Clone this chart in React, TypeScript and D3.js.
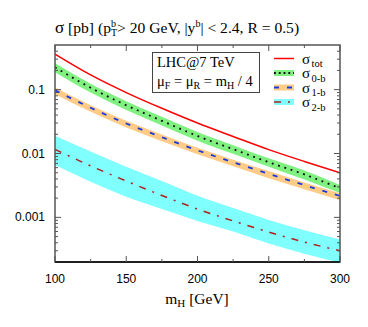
import React from "react";
import * as d3 from "d3";

const masses = [100, 125, 150, 175, 200, 225, 250, 275, 300];
const sigTot = [0.36, 0.17, 0.09, 0.051, 0.030, 0.0185, 0.0115, 0.0075, 0.0050];
const sig0 = [0.224, 0.107, 0.057, 0.0325, 0.0188, 0.0117, 0.0073, 0.0047, 0.00285];
const sig0Lo = [0.187, 0.090, 0.048, 0.0275, 0.0159, 0.0099, 0.0062, 0.0039, 0.0024];
const sig0Hi = [0.262, 0.124, 0.066, 0.0376, 0.0217, 0.0135, 0.0084, 0.0054, 0.0032];
const sig1 = [0.098, 0.052, 0.0295, 0.018, 0.0112, 0.0073, 0.0048, 0.0032, 0.00217];
const sig1Lo = [0.085, 0.045, 0.0255, 0.0155, 0.0097, 0.0063, 0.0041, 0.00275, 0.00186];
const sig1Hi = [0.108, 0.057, 0.0325, 0.0198, 0.0123, 0.0080, 0.0053, 0.0035, 0.00238];
const sig2 = [0.0116, 0.0064, 0.0037, 0.0022, 0.00135, 0.00088, 0.00059, 0.00041, 0.00030];
const sig2Lo = [0.0066, 0.0036, 0.0021, 0.00135, 0.00088, 0.0006, 0.00039, 0.00027, 0.000195];
const sig2Hi = [0.019, 0.0107, 0.0062, 0.0037, 0.00218, 0.0014, 0.00091, 0.00063, 0.00045];

const xTicks = [100, 150, 200, 250, 300];
const xMinor = [125, 175, 225, 275];
const yTicks = [0.001, 0.01, 0.1];
const yTickLabels = ["0.001", "0.01", "0.1"];

const legendSubs = ["tot", "0-b", "1-b", "2-b"];

const SERIF = "'Liberation Serif', 'Times New Roman', serif";
const SANS = "'Liberation Sans', Arial, sans-serif";

export default function App() {
  const W = 368, H = 327;
  const L = 55, R = 340, T = 45, B = 262;
  const x = d3.scaleLinear().domain([100, 300]).range([L, R]);
  const y = d3.scaleLog().domain([0.0002, 0.5]).range([B, T]);

  const line = (vals: number[]) =>
    d3.line<number>().x((_, i) => x(masses[i])).y((v) => y(v)).curve(d3.curveMonotoneX)(vals) || "";
  const area = (lo: number[], hi: number[]) =>
    d3
      .area<number>()
      .x((_, i) => x(masses[i]))
      .y0((_, i) => y(lo[i]))
      .y1((_, i) => y(hi[i]))
      .curve(d3.curveMonotoneX)(masses) || "";

  const minorY: number[] = [];
  [0.0001, 0.001, 0.01, 0.1].forEach((dec) => {
    for (let k = 2; k <= 9; k++) {
      const v = dec * k;
      if (v > 0.0002 && v < 0.5) minorY.push(v);
    }
  });

  const frame = "#555";
  const legY = [58.5, 73, 87.5, 102];
  const legX0 = 274, legX1 = 294;

  return (
    <svg width={W} height={H} style={{ position: "absolute", left: 0, top: 0, background: "#fff" }}>
      <defs>
        <clipPath id="plotclip">
          <rect x={L} y={T} width={R - L} height={B - T} />
        </clipPath>
      </defs>
      {/* Title */}
      <text x={L} y={33} fontFamily={SERIF} fontSize={15.6} fill="#000">
        <tspan fontSize={17}>σ</tspan>
        <tspan> [pb] (p</tspan>
        <tspan fontSize={10} dy={-6}>b</tspan>
        <tspan fontSize={10} dx={-5} dy={9}>T</tspan>
        <tspan dy={-3}>{"> 20 GeV, |y"}</tspan>
        <tspan fontSize={10} dy={-6}>b</tspan>
        <tspan dy={6}>{"| < 2.4, R = 0.5)"}</tspan>
      </text>

      <g clipPath="url(#plotclip)">
        <path d={area(sig2Lo, sig2Hi)} fill="#80ffff" />
        <path d={area(sig1Lo, sig1Hi)} fill="#ffcc88" />
        <path d={area(sig0Lo, sig0Hi)} fill="#80f080" />
        <path d={line(sigTot)} fill="none" stroke="#ff0000" strokeWidth={1.5} />
        <path d={line(sig0)} fill="none" stroke="#000" strokeWidth={1.8} strokeDasharray="1.8,4.8" />
        <path d={line(sig1)} fill="none" stroke="#1a3adf" strokeWidth={1.8} strokeDasharray="5,8" />
        <path d={line(sig2)} fill="none" stroke="#b02020" strokeWidth={1.5} strokeDasharray="7,7,2,7" />
      </g>

      {/* Frame */}
      <rect x={L} y={T} width={R - L} height={B - T} fill="none" stroke={frame} strokeWidth={1.5} />
      <line x1={L} x2={R} y1={B} y2={B} stroke="#000" strokeWidth={1.5} />

      {/* X ticks */}
      {xTicks.map((t) => (
        <g key={"xt" + t}>
          <line x1={x(t)} x2={x(t)} y1={B} y2={B - 6} stroke={frame} />
          <line x1={x(t)} x2={x(t)} y1={T} y2={T + 6} stroke={frame} />
          <text x={x(t)} y={283} textAnchor="middle" fontFamily={SANS} fontSize={12} fill="#000">
            {t}
          </text>
        </g>
      ))}
      {xMinor.map((t) => (
        <g key={"xm" + t}>
          <line x1={x(t)} x2={x(t)} y1={B} y2={B - 3} stroke={frame} />
          <line x1={x(t)} x2={x(t)} y1={T} y2={T + 3} stroke={frame} />
        </g>
      ))}

      {/* Y ticks */}
      {yTicks.map((t, i) => (
        <g key={"yt" + t}>
          <line x1={L} x2={L + 6} y1={y(t)} y2={y(t)} stroke={frame} />
          <line x1={R} x2={R - 6} y1={y(t)} y2={y(t)} stroke={frame} />
          <text x={45} y={y(t) + 4} textAnchor="end" fontFamily={SANS} fontSize={12} fill="#000">
            {yTickLabels[i]}
          </text>
        </g>
      ))}
      {minorY.map((t) => (
        <g key={"ym" + t}>
          <line x1={L} x2={L + 3} y1={y(t)} y2={y(t)} stroke={frame} />
          <line x1={R} x2={R - 3} y1={y(t)} y2={y(t)} stroke={frame} />
        </g>
      ))}

      {/* X title */}
      <text x={197} y={304} textAnchor="middle" fontFamily={SERIF} fontSize={15.5} fill="#000">
        <tspan>m</tspan>
        <tspan fontSize={11} dy={3}>H</tspan>
        <tspan dy={-3}> [GeV]</tspan>
      </text>

      {/* Info box */}
      <rect x={152.5} y={52.5} width={107} height={40} fill="#fff" stroke="#444" strokeWidth={1} />
      <text x={157} y={67} fontFamily={SERIF} fontSize={14.5} fill="#000">
        LHC@7 TeV
      </text>
      <text x={157} y={86} fontFamily={SERIF} fontSize={14.5} fill="#000">
        <tspan>μ</tspan>
        <tspan fontSize={10} dy={3}>F</tspan>
        <tspan dy={-3}> = μ</tspan>
        <tspan fontSize={10} dy={3}>R</tspan>
        <tspan dy={-3}> = m</tspan>
        <tspan fontSize={10} dy={3}>H</tspan>
        <tspan dy={-3}> / 4</tspan>
      </text>

      {/* Legend */}
      <rect x={legX0} y={legY[1] - 3} width={legX1 - legX0} height={6} fill="#80f080" />
      <rect x={legX0} y={legY[2] - 3} width={legX1 - legX0} height={6} fill="#ffcc88" />
      <rect x={legX0} y={legY[3] - 3} width={legX1 - legX0} height={6} fill="#80ffff" />
      <line x1={legX0} x2={legX1} y1={legY[0]} y2={legY[0]} stroke="#ff0000" strokeWidth={1.5} />
      <line x1={legX0} x2={legX1} y1={legY[1]} y2={legY[1]} stroke="#000" strokeWidth={1.8} strokeDasharray="1.8,3" />
      <line x1={legX0} x2={legX1} y1={legY[2]} y2={legY[2]} stroke="#1a3adf" strokeWidth={1.8} strokeDasharray="5,8" />
      <line x1={legX0} x2={legX1} y1={legY[3]} y2={legY[3]} stroke="#b02020" strokeWidth={1.5} strokeDasharray="7,7,2,7" />
      {legendSubs.map((s, i) => (
        <g key={s}>
          <text x={302} y={legY[i] + 5} fontFamily={SERIF} fontSize={15} fill="#000">
            σ
          </text>
          <text x={311.5} y={legY[i] + 8.5} fontFamily={SERIF} fontSize={10.5} fill="#000">
            {s}
          </text>
        </g>
      ))}
    </svg>
  );
}
